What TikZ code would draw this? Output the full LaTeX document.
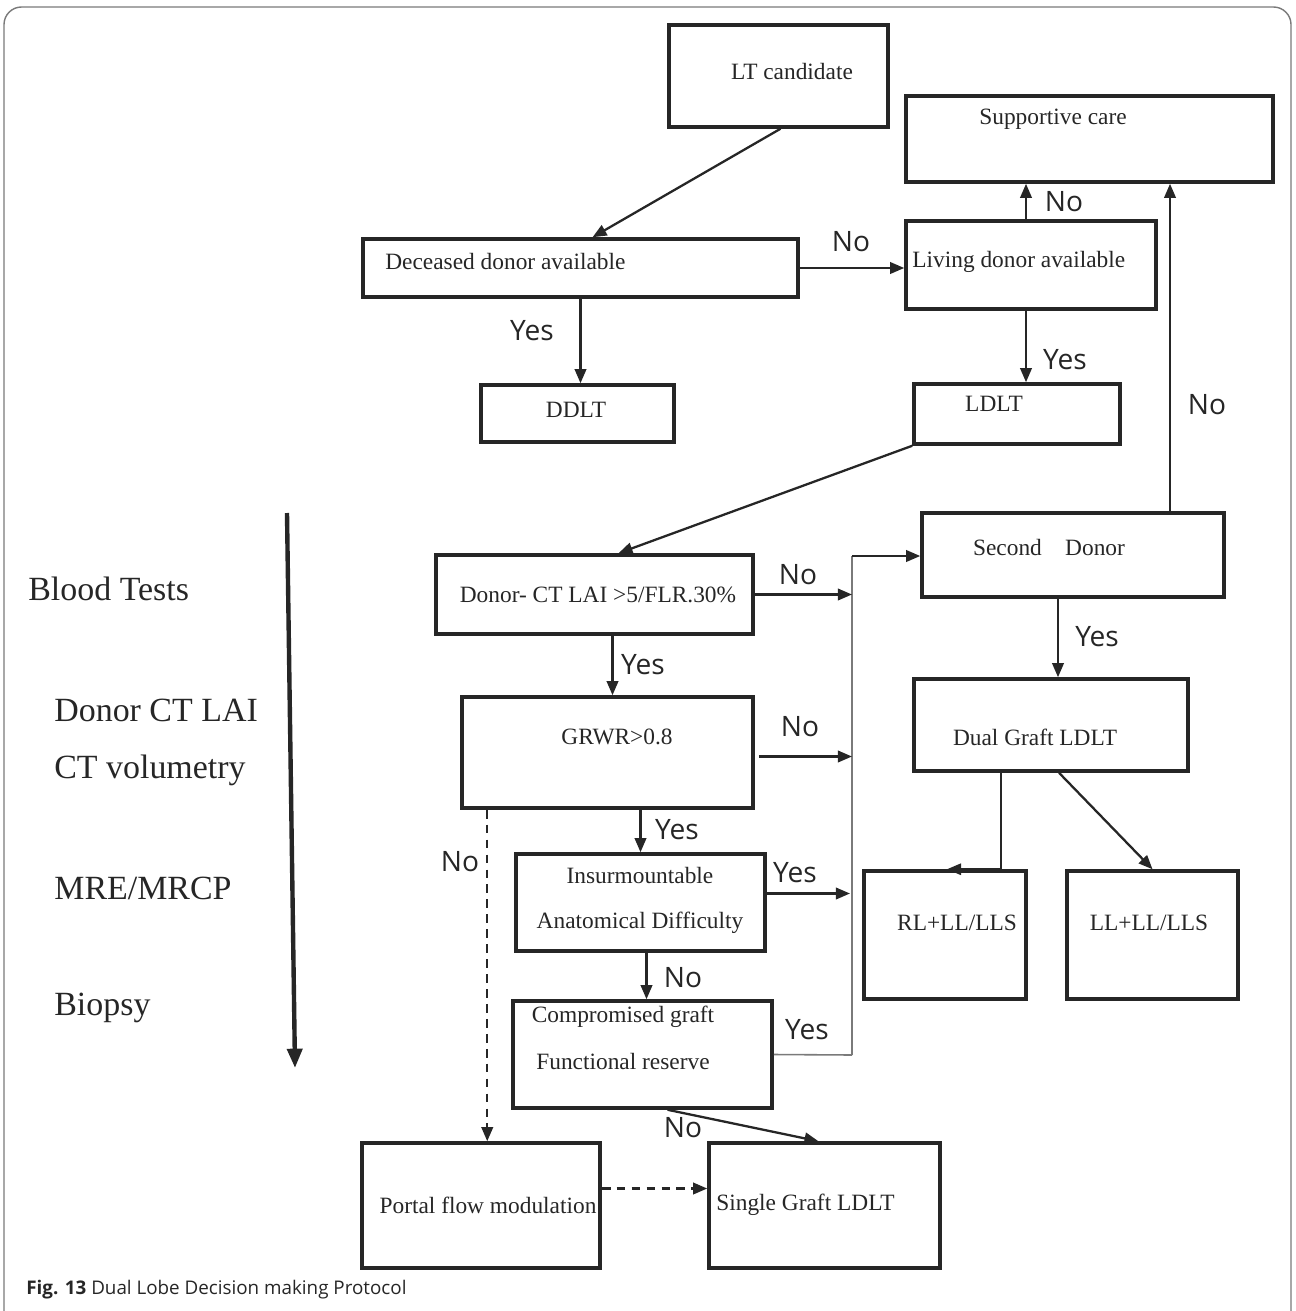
\documentclass[tikz,border=0pt]{standalone}
\usepackage{fontspec}
\setmainfont{Liberation Serif}
\newfontfamily\yesnofont{Open Sans}
\usetikzlibrary{arrows.meta,calc}
\definecolor{ink}{HTML}{262626}
\definecolor{framegray}{HTML}{7A7A7A}
\tikzset{
  box/.style 2 args={draw=ink, line width=2pt, minimum width=#1*0.2mm, minimum height=#2*0.2mm, inner sep=0pt},
  txt/.style={text=ink, font=\fontsize{13.3}{16}\selectfont, inner sep=0pt},
  twoline/.style={txt, align=center, font=\fontsize{13.3}{#1}\selectfont},
  lbl/.style={text=ink, font=\yesnofont\fontsize{16}{18}\selectfont, inner sep=0pt},
  test/.style={text=ink, font=\fontsize{19.3}{22}\selectfont, inner sep=0pt, anchor=west},
  arr/.style={draw=ink, line width=1.3pt, -{Triangle[length=8pt,width=6.5pt]}},
  dasharr/.style={arr, dash pattern=on 5pt off 3.5pt},
  bus/.style={draw=framegray, line width=0.9pt},
}
\begin{document}
\begin{tikzpicture}[x=0.2mm, y=-0.2mm]
    \useasboundingbox (0,0) rectangle (1295,1311);
    % frame
    \draw[framegray, line width=0.8pt, rounded corners=10pt] (4,1311) -- (4,7) -- (1291,7) -- (1291,1311);
    % boxes
    \node[box={219}{102}] (lt) at (778.5,76) {};
    \node[box={367}{86}] (sup) at (1089.5,139) {};
    \node[box={435}{58}] (dec) at (580.5,268) {};
    \node[box={250}{88}] (liv) at (1031,265) {};
    \node[box={193}{57}] (ddlt) at (577.5,413.5) {};
    \node[box={206}{60}] (ldlt) at (1017,414) {};
    \node[box={302}{84}] (sec) at (1073,555) {};
    \node[box={317}{79}] (dct) at (594.5,594.5) {};
    \node[box={291}{111}] (grwr) at (607.5,752.5) {};
    \node[box={249}{97}] (ins) at (640.5,902.5) {};
    \node[box={259}{107}] (comp) at (642.5,1054.5) {};
    \node[box={274}{92}] (dual) at (1051,725) {};
    \node[box={162}{128}] (rl) at (945,935) {};
    \node[box={171}{128}] (ll) at (1152.5,935) {};
    \node[box={238}{125}] (portal) at (481,1205.5) {};
    \node[box={231}{125}] (single) at (824.5,1205.5) {};
    % box texts
    \node[txt] (ltt) at (792,72) {LT candidate};
    \node[txt, anchor=west] (supt) at (979,119) {Supportive care};
    \node[txt, anchor=west] (dect) at (385,262) {Deceased donor available};
    \node[txt, anchor=west] (livt) at (912,262) {Living donor available};
    \node[txt] (ddltt) at (576,410) {DDLT};
    \node[txt] (ldltt) at (994,404) {LDLT};
    \node[txt] (sect) at (1049,548) {Second\quad Donor};
    \node[txt] (dctt) at (598,595) {Donor- CT LAI >5/FLR.30\%};
    \node[txt] (grwrt) at (617,737) {GRWR>0.8};
    \node[twoline=25.5pt] (inst) at (640,900) {Insurmountable\\Anatomical Difficulty};
    \node[twoline=26.5pt] (compt) at (623,1038) {Compromised graft\\Functional reserve};
    \node[txt] (dualt) at (1035,737) {Dual Graft LDLT};
    \node[txt] (rlt) at (957,923) {RL+LL/LLS};
    \node[txt] (llt) at (1149,923) {LL+LL/LLS};
    \node[txt] (portalt) at (488,1205) {Portal flow modulation};
    \node[txt, anchor=west] (singlet) at (716,1205) {Single Graft LDLT};
    % work-up sequence on the left
    \node[test] (blood) at (28,589) {Blood Tests};
    \node[test] (ctlai) at (54,710) {Donor CT LAI};
    \node[test] (ctvol) at (54,770) {CT volumetry};
    \node[test] (mre) at (54,888) {MRE/MRCP};
    \node[test] (bx) at (54,1008) {Biopsy};
    \coordinate (seqtop) at (287,513);
    \coordinate (seqend) at (295,1068);
    \draw[ink, line width=2.5pt, -{Triangle[length=11pt,width=8.5pt]}] (seqtop) -- (seqend);
    % connectors
    \draw[arr] ($(lt.south)+(2,0)$) -- ($(dec.north)+(12,0)$);
    \draw[arr] (dec.east) -- (dec.east -| liv.west);
    \draw[arr] (dec.south) -- (dec.south |- ddlt.north);
    \draw[arr] ($(liv.north)+(-5,0)$) coordinate (livup) -- (livup |- sup.south);
    \draw[arr] ($(liv.south)+(-5,0)$) coordinate (livdn) -- (livdn |- ldlt.north);
    \draw[arr] (ldlt.south west) -- ($(dct.north)+(24,0)$);
    \coordinate (secup) at ($(sec.north)+(97,0)$);
    \draw[arr] (secup) -- (secup |- sup.south);
    \draw[arr] ($(dct.south)+(18,0)$) coordinate (dctd) -- (dctd |- grwr.north);
    % collecting line to the second donor
    \coordinate (bustop) at (852,556);
    \coordinate (busbot) at (852,1055);
    \draw[bus] (bustop) -- (busbot);
    \draw[arr] (bustop) -- (bustop -| sec.west);
    \draw[arr] (dct.east) -- (dct.east -| bustop);
    \draw[arr] ($(grwr.east)+(4,4)$) coordinate (grwrr) -- (grwrr -| bustop);
    \draw[arr] ($(ins.east)+(0,-9)$) coordinate (insr) -- ($(insr -| bustop)+(-2,0)$);
    \draw[bus] (comp.east) -- (busbot);
    \draw[arr] (ins.north |- grwr.south) -- (ins.north);
    \draw[arr] ($(ins.south)+(6,0)$) coordinate (insd) -- (insd |- comp.north);
    \draw[arr] ($(comp.south)+(25,0)$) -- ($(single.north)+(-6,0)$);
    \draw[dasharr] ($(grwr.south west)+(27,0)$) coordinate (grwrd) -- (grwrd |- portal.north);
    \draw[dasharr] ($(portal.east)+(0,-17)$) coordinate (portr) -- (portr -| single.west);
    \draw[arr] ($(sec.south)+(-15,0)$) coordinate (secd) -- (secd |- dual.north);
    \draw[arr, line width=1pt] ($(dual.south)+(-50,0)$) |- ($(rl.north)+(2,0)$);
    \draw[arr] ($(dual.south)+(8,0)$) -- (ll.north);
    % yes / no labels
    \node[lbl] (ndec) at (851,242) {No};
    \node[lbl] (ydec) at (532,331) {Yes};
    \node[lbl] (nliv) at (1064,202) {No};
    \node[lbl] (yliv) at (1065,360) {Yes};
    \node[lbl] (nsec) at (1207,405) {No};
    \node[lbl] (ndct) at (798,575) {No};
    \node[lbl] (ydct) at (643,665) {Yes};
    \node[lbl] (ngrwr) at (800,727) {No};
    \node[lbl] (ygrwr) at (677,830) {Yes};
    \node[lbl] (nport) at (460,862) {No};
    \node[lbl] (yins) at (795,873) {Yes};
    \node[lbl] (nins) at (683,978) {No};
    \node[lbl] (ycomp) at (807,1030) {Yes};
    \node[lbl] (ncomp) at (683,1128) {No};
    \node[lbl] (ysec) at (1097,637) {Yes};
    % caption
    \node[text=ink, font=\yesnofont\fontsize{10.7}{13}\selectfont, anchor=west, inner sep=0pt] (cap) at (26,1290)
        {\textbf{Fig. 13} Dual Lobe Decision making Protocol};
\end{tikzpicture}
\end{document}
